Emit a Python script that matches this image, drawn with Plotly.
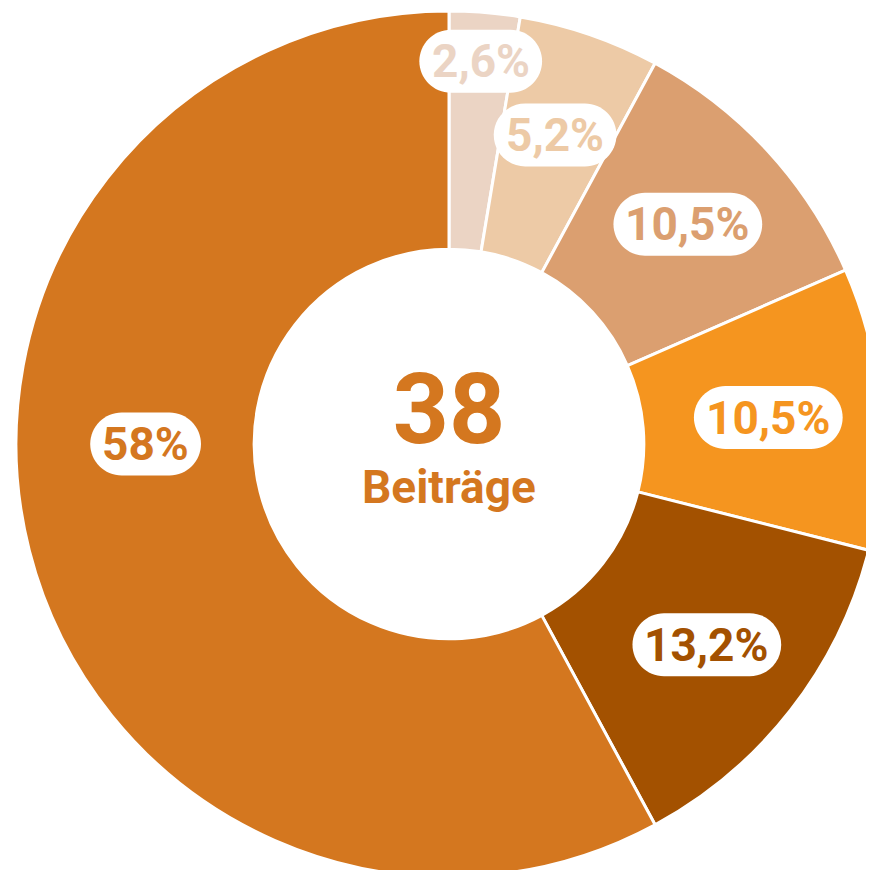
import numpy as np
import plotly.graph_objects as go

# share of the 38 contributions, clockwise from 12 o'clock
labels = ["2,6%", "5,2%", "10,5%", "10,5%", "13,2%", "58%"]
counts = [1, 2, 4, 4, 5, 22]
colors = ["#EBD4C4", "#EDCAA6", "#DB9F70", "#F5951F", "#A35100", "#D4771F"]
total_label = "38"
unit_label = "Beiträge"

# label placement: fraction of outer radius, optional angle override (deg from top)
label_radius = [0.905, 0.77, 0.765, 0.755, 0.77, 0.715]
label_angle = {5: 270}

W, H = 874, 870
M = dict(l=8, r=0, t=2, b=0)
plot_w = W - M["l"] - M["r"]
plot_h = H - M["t"] - M["b"]
R = min(plot_w, plot_h) / 2 * 0.98  # plotly trims the pie a touch
HOLE = 0.45
FONT = "Roboto, Arial, sans-serif"
LABEL_SIZE = 46
PILL_H = 63

fig = go.Figure()
fig.add_trace(go.Pie(
    values=counts,
    labels=[f"s{i}" for i in range(len(counts))],
    marker=dict(colors=colors, line=dict(color="white", width=3)),
    hole=HOLE,
    sort=False,
    direction="clockwise",
    rotation=0,
    textinfo="none",
    hoverinfo="skip",
    showlegend=False,
))


def text_width(s, size):
    w = {",": 0.26, "%": 0.8}
    return sum(w.get(c, 0.565) for c in s) * size


def pill_path(cx, cy, w, h):
    # rounded capsule in pixel units -> paper units
    r = h / 2
    k = 0.5523 * r
    x0, x1 = cx - w / 2 + r, cx + w / 2 - r
    pts = [
        ("M", [(x0, cy - r)]),
        ("L", [(x1, cy - r)]),
        ("C", [(x1 + k, cy - r), (x1 + r, cy - k), (x1 + r, cy)]),
        ("C", [(x1 + r, cy + k), (x1 + k, cy + r), (x1, cy + r)]),
        ("L", [(x0, cy + r)]),
        ("C", [(x0 - k, cy + r), (x0 - r, cy + k), (x0 - r, cy)]),
        ("C", [(x0 - r, cy - k), (x0 - k, cy - r), (x0, cy - r)]),
    ]
    out = []
    for cmd, ps in pts:
        coords = " ".join(f"{px / plot_w:.5f},{1 - py / plot_h:.5f}" for px, py in ps)
        out.append(f"{cmd}{coords}")
    return " ".join(out) + " Z"


cum = np.cumsum([0] + counts)
tot = cum[-1]
cx0, cy0 = plot_w / 2, plot_h / 2
for i, (lab, col) in enumerate(zip(labels, colors)):
    ang = label_angle.get(i, (cum[i] + cum[i + 1]) / 2 / tot * 360)
    rad = np.deg2rad(ang)
    r = label_radius[i] * R
    px = cx0 + r * np.sin(rad)
    py = cy0 - r * np.cos(rad)
    pw = text_width(lab, LABEL_SIZE) + 22
    fig.add_shape(type="path", xref="paper", yref="paper",
                  path=pill_path(px, py, pw, PILL_H),
                  fillcolor="white", line=dict(width=0), layer="above")
    fig.add_annotation(x=px / plot_w, y=1 - py / plot_h, xref="paper", yref="paper",
                       text=f"<b>{lab}</b>", showarrow=False,
                       font=dict(family=FONT, size=LABEL_SIZE, color=col),
                       xanchor="center", yanchor="middle")

# centre: total count over its unit, one text block
fig.add_annotation(
    x=0.5, y=0.5 + 11 / plot_h, xref="paper", yref="paper",
    text=(f"<b><span style='font-size:98px'>{total_label}</span>"
          f"<br>{unit_label}</b>"),
    showarrow=False,
    font=dict(family=FONT, size=46, color="#D4771F"),
    xanchor="center", yanchor="middle", align="center",
)

fig.update_layout(
    width=W, height=H,
    margin=M,
    paper_bgcolor="white",
    plot_bgcolor="white",
)
fig.write_html("out.html")
